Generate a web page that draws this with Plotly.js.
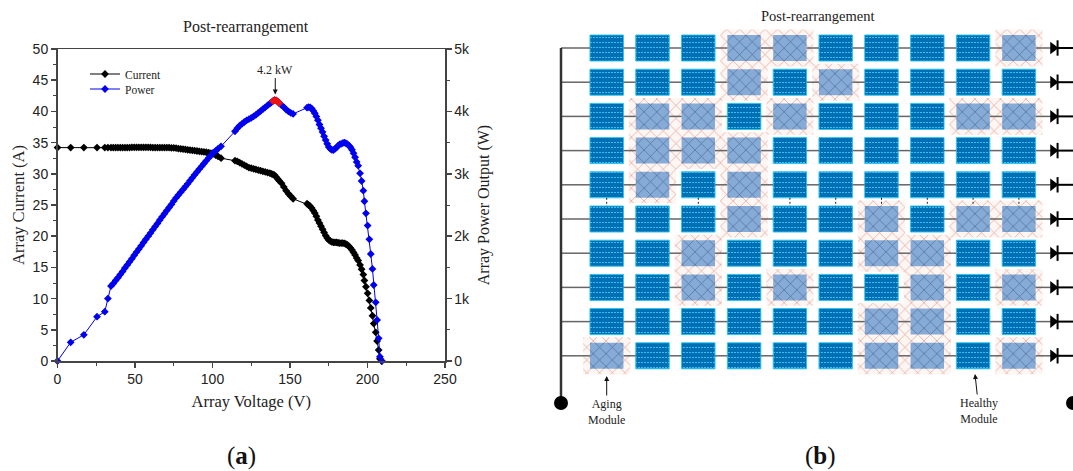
<!DOCTYPE html>
<html><head><meta charset="utf-8">
<script src="https://cdn.plot.ly/plotly-3.0.1.min.js"></script>
<style>html,body{margin:0;padding:0;background:#fff;overflow:hidden}#c{width:1073px;height:471px}</style>
</head><body><div id="c"></div>
<script>
const voltage = [0,8.5,17,25.5,30.5,32.5,34.5,
 36,37.5,39,40.5,42,43.5,45,46.5,48,49.5,51,52.5,54,55.5,57,58.5,60,61.5,63,64.5,66,67.5,69,70.5,72,73.5,75,76.5,78,79.5,81,82.5,84,85.5,87,88.5,90,91.5,93,94.5,96,97.5,99,100.5,102,103.5,105.5,
 114.5,116,117.5,119,120.5,122,123.5,125,126.5,128,129.5,131,132.5,134,135.5,137,138,139,140,141,142,143,144.5,146,147.5,149,150.5,152,
 161,162,163,164,165,166,167,168,169,170,171,172,173,174,175,176,177,178,179,180,181,182,183,184,185,186,187,188,189,190,191,192,193,
 194,195.2,196.2,197.3,198,199,200.1,201.2,202.1,203.2,204,205.3,206.2,207.2,208,209.2];
const current = [34.2,34.2,34.2,34.2,34.2,34.2,34.2,
 34.2,34.2,34.2,34.2,34.2,34.2,34.2,34.2,34.25,34.25,34.25,34.25,34.25,34.25,34.25,34.25,34.25,34.2,34.2,34.2,34.2,34.2,34.2,34.2,34.2,34.15,34.15,34.1,34.05,34,33.95,33.9,33.85,33.8,33.75,33.7,33.65,33.6,33.55,33.5,33.45,33.4,33.3,33.2,33,32.8,32.5,
 32.1,32,31.8,31.6,31.4,31.2,31,30.9,30.8,30.7,30.6,30.5,30.4,30.3,30.2,30.1,30,29.9,29.8,29.5,29.2,28.9,28.5,27.9,27.3,26.8,26.4,26,
 25.2,25,24.8,24.5,24.1,23.7,23.2,22.6,22.1,21.6,21.1,20.6,20.1,19.7,19.4,19.2,19.1,19,19,19,18.95,18.9,18.9,18.9,18.85,18.75,18.6,18.4,18.1,17.8,17.4,17,16.5,
 16.1,15.4,14.7,13.85,12.9,11.9,10.85,9.7,8.5,7.25,6,4.6,3.2,1.75,0.35,0];
const power = [0,300,420,710,790,1000,1200,
 1240,1290,1335,1385,1435,1490,1540,1590,1640,1695,1745,1795,1845,1900,1950,2000,2050,2105,2155,2205,2260,2310,2360,2410,2460,2510,2565,2615,2660,2705,2750,2795,2840,2890,2935,2985,3030,3075,3120,3165,3210,3255,3295,3340,3365,3400,3440,
 3680,3730,3770,3800,3830,3855,3875,3895,3920,3945,3975,4005,4035,4065,4095,4125,4145,4165,4180,4175,4160,4135,4100,4070,4030,4000,3975,3960,
 4060,4070,4065,4045,4010,3970,3920,3860,3790,3730,3670,3600,3540,3480,3430,3400,3385,3380,3400,3420,3450,3470,3480,3490,3500,3490,3475,3455,3425,3385,3330,3265,3190,
 3130,3008,2885,2730,2560,2367,2170,1950,1715,1475,1218,940,657,363,70,0];
const peakVoltage = [139,140,141,142,143];
const peakPower = [4165,4180,4175,4160,4135];

const columns = [1,2,3,4,5,6,7,8,9,10];
const rows = [1,2,3,4,5,6,7,8,9,10];
const agingByRow = [[4,5,10],[4,6],[2,3,5,9,10],[2,3,4],[2,4],[4,7,9,10],[3,7,8],[3,5,8,10],[7,8],[1,7,8,10]];
const dottedColumns = [1,3,5,6,7,8,9,10];

// ---- build from the arrays above
const agingX=[],agingY=[],healthyX=[],healthyY=[];
rows.forEach((r,i)=>columns.forEach(c=>{
  if(agingByRow[i].includes(c)){agingX.push(c);agingY.push(r);}
  else{healthyX.push(c);healthyY.push(r);}
}));
const modW=0.73,modH=0.76,haloW=1.03,haloH=1.08;
const busC=(561-606.7)/45.8+1, diodeC=(1053-606.7)/45.8+1, endC=(1073-606.7)/45.8+1, dotR=(403-48)/34.2+1;
const wireX=[],wireY=[];
rows.forEach(r=>{
  wireX.push(busC,1-modW/2,null);wireY.push(r,r,null);
  columns.slice(0,-1).forEach(c=>{wireX.push(c+modW/2,c+1-modW/2,null);wireY.push(r,r,null);});
  wireX.push(10+modW/2,diodeC,null);wireY.push(r,r,null);
});
const outX=[],outY=[];
rows.forEach(r=>{outX.push(diodeC,endC,null);outY.push(r,r,null);});
const dotX=[],dotY=[];
dottedColumns.forEach(c=>{dotX.push(c,c,null);dotY.push(5.38,5.62,null);});

const serif='"Liberation Serif", serif', sans='"Liberation Sans", Arial, sans-serif';
const W=1073,H=471;
const dx=p=>p/W, dy=p=>(H-p)/H;
const xa3={domain:[dx(555),1],range:[1-51.7/45.8,1+466.3/45.8],visible:false,fixedrange:true};
const ya3={domain:[dy(440),dy(10)],range:[1+392/34.2,1-38/34.2],visible:false,fixedrange:true};

const base=(ys,h)=>ys.map(r=>r-h/2);
const traces=[
 {type:'bar',xaxis:'x2',yaxis:'y3',x:agingX,y:agingX.map(()=>haloH),base:base(agingY,haloH),width:haloW,showlegend:false,
  marker:{color:'#fdf6f3',line:{width:0},pattern:{shape:'x',size:9,solidity:0.13,fgcolor:'#dd8f84',bgcolor:'#fdf6f3'}}},
 {type:'bar',xaxis:'x2',yaxis:'y3',x:agingX,y:agingX.map(()=>modH),base:base(agingY,modH),width:modW,showlegend:false,
  marker:{color:'#7ea3d0',line:{width:0},pattern:{shape:'x',size:9,solidity:0.14,fgcolor:'#4a6a96',bgcolor:'#86abd6'}}},
 {type:'bar',xaxis:'x2',yaxis:'y3',x:healthyX,y:healthyX.map(()=>modH),base:base(healthyY,modH),width:modW,showlegend:false,
  marker:{color:'#0072b6',line:{width:1,color:'#2cc4ee'},pattern:{shape:'-',size:5,solidity:0.2,fgcolor:'#38bdf0',bgcolor:'#006fb3'}}},
 {type:'bar',xaxis:'x2',yaxis:'y3',x:healthyX,y:healthyX.map(()=>modH-0.04),base:base(healthyY,modH-0.04),width:modW-0.03,showlegend:false,
  marker:{color:'rgba(0,0,0,0)',line:{width:0},pattern:{shape:'|',size:3,solidity:0.35,fgcolor:'#006fb3',bgcolor:'rgba(0,0,0,0)'}}},
 {type:'scatter',mode:'lines',xaxis:'x2',yaxis:'y3',x:wireX,y:wireY,showlegend:false,line:{color:'#666',width:1.5}},
 {type:'scatter',mode:'lines',xaxis:'x2',yaxis:'y3',x:outX,y:outY,showlegend:false,line:{color:'#000',width:2}},
 {type:'scatter',mode:'lines',xaxis:'x2',yaxis:'y3',x:dotX,y:dotY,showlegend:false,line:{color:'#222',width:1,dash:'2px,2px'}},
 {type:'scatter',mode:'lines',xaxis:'x2',yaxis:'y3',x:[busC,busC],y:[1,dotR],showlegend:false,line:{color:'#333',width:2.5}},
 {type:'scatter',mode:'markers',xaxis:'x2',yaxis:'y3',x:[busC,endC],y:[dotR,dotR],showlegend:false,marker:{color:'#000',size:14,symbol:'circle'},cliponaxis:false},
 {type:'scatter',mode:'markers',xaxis:'x2',yaxis:'y3',x:rows.map(()=>diodeC),y:rows,showlegend:false,marker:{color:'#000',size:11,symbol:'triangle-right'}},
 {type:'scatter',mode:'markers',xaxis:'x2',yaxis:'y3',x:rows.map(()=>diodeC+0.1),y:rows,showlegend:false,marker:{color:'#000',size:11,symbol:'line-ns',line:{color:'#000',width:2}}},
 {type:'scatter',mode:'lines+markers',name:'Current',x:voltage,y:current,xaxis:'x',yaxis:'y',legend:'legend',
  line:{color:'#000',width:1},marker:{color:'#000',size:6,symbol:'diamond'},cliponaxis:false},
 {type:'scatter',mode:'lines+markers',name:'Power',x:voltage,y:power,xaxis:'x',yaxis:'y2',legend:'legend2',
  line:{color:'#0000ee',width:1},marker:{color:'#0000ee',size:6,symbol:'diamond'},cliponaxis:false},
 {type:'scatter',mode:'markers',x:peakVoltage,y:peakPower,xaxis:'x',yaxis:'y2',showlegend:false,
  marker:{color:'#ee1111',size:6,symbol:'diamond'}}
];
const axisFont={family:sans,size:14,color:'#222'};
const legendBase={xanchor:'left',yanchor:'middle',bgcolor:'rgba(0,0,0,0)',font:{family:serif,size:11.5,color:'#222'},itemwidth:30};
const centered={xref:'paper',yref:'paper',xanchor:'center',yanchor:'middle',showarrow:false};
const layout={
 width:W,height:H,margin:{l:0,r:0,t:0,b:0},paper_bgcolor:'#fff',plot_bgcolor:'#fff',barmode:'overlay',
 font:{family:serif,color:'#222'},showlegend:true,
 legend:Object.assign({x:dx(85),y:dy(74)},legendBase),
 legend2:Object.assign({x:dx(85),y:dy(89)},legendBase),
 xaxis:{domain:[dx(57.5),dx(445)],range:[0,250],anchor:'y',dtick:50,tick0:0,ticks:'outside',ticklen:5,tickwidth:1.5,tickcolor:'#444',
  minor:{dtick:25,ticks:'outside',ticklen:3,tickcolor:'#444',tickwidth:1},showgrid:false,zeroline:false,
  showline:true,linecolor:'#444',linewidth:1.5,mirror:true,tickfont:axisFont,
  title:{text:'Array Voltage (V)',font:{family:serif,size:16.5,color:'#222'},standoff:9}},
 yaxis:{domain:[dy(361),dy(49)],range:[0,50],anchor:'x',dtick:5,ticks:'outside',ticklen:5,tickwidth:1.5,tickcolor:'#444',
  minor:{dtick:2.5,ticks:'outside',ticklen:3,tickcolor:'#444',tickwidth:1},showgrid:false,zeroline:false,
  showline:true,linecolor:'#444',linewidth:1.5,tickfont:axisFont,
  title:{text:'Array Current (A)',font:{family:serif,size:16.5,color:'#222'},standoff:4}},
 yaxis2:{domain:[dy(361),dy(49)],range:[0,5000],overlaying:'y',side:'right',anchor:'x',dtick:1000,tickformat:'~s',ticks:'outside',ticklen:5,tickwidth:1.5,tickcolor:'#444',
  minor:{dtick:500,ticks:'outside',ticklen:3,tickcolor:'#444',tickwidth:1},showgrid:false,zeroline:false,
  showline:true,linecolor:'#444',linewidth:1.5,tickfont:axisFont,
  title:{text:'Array Power Output (W)',font:{family:serif,size:16,color:'#222'},standoff:8}},
 xaxis2:Object.assign({anchor:'y3'},xa3),
 yaxis3:Object.assign({anchor:'x2'},ya3),
 annotations:[
  Object.assign({x:dx(246),y:dy(27),text:'Post-rearrangement',font:{family:serif,size:16,color:'#222'}},centered),
  Object.assign({x:dx(818),y:dy(16),text:'Post-rearrangement',font:{family:serif,size:14.5,color:'#222'}},centered),
  Object.assign({x:dx(241),y:dy(456),text:'(<b>a</b>)',font:{family:serif,size:25,color:'#111'}},centered),
  Object.assign({x:dx(820),y:dy(456),text:'(<b>b</b>)',font:{family:serif,size:25,color:'#111'}},centered),
  {xref:'x',yref:'y2',x:140.5,y:4270,ax:0,ay:-25,text:'4.2 kW',showarrow:true,arrowhead:2,arrowsize:1,arrowwidth:1,arrowcolor:'#111',font:{family:serif,size:12,color:'#222'}},
  {xref:'x2',yref:'y3',x:1,y:1+(376-48)/34.2,ax:0,ay:36,text:'Aging<br>Module',showarrow:true,arrowhead:2,arrowsize:1,arrowwidth:1,arrowcolor:'#111',font:{family:serif,size:12,color:'#222'}},
  {xref:'x2',yref:'y3',x:1+(975-606.7)/45.8,y:1+(374-48)/34.2,ax:4,ay:37,text:'Healthy<br>Module',showarrow:true,arrowhead:2,arrowsize:1,arrowwidth:1,arrowcolor:'#111',font:{family:serif,size:12,color:'#222'}}
 ]
};
Plotly.newPlot('c',traces,layout,{displayModeBar:false,staticPlot:true});
</script></body></html>
